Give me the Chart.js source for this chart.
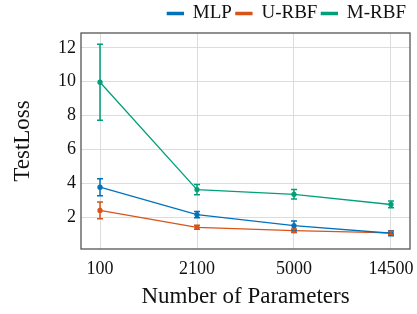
<!DOCTYPE html>
<html>
<head>
<meta charset="utf-8">
<script src="https://cdn.jsdelivr.net/npm/chart.js@4.4.1/dist/chart.umd.min.js"></script>
<style>
  html, body { margin: 0; padding: 0; background: #fff; }
  #wrap { width: 417px; height: 314px; }
</style>
</head>
<body>
<div id="wrap"><canvas id="myChart" width="417" height="314"></canvas></div>
<script>
// datos
const categorias = ['100', '2100', '5000', '14500'];
const yTicks = [2, 4, 6, 8, 10, 12];

const mlp = [3.77, 2.15, 1.5, 1.05];
const mlpErr = [0.5, 0.18, 0.28, 0.15];

const urbf = [2.4, 1.4, 1.2, 1.07];
const urbfErr = [0.5, 0.12, 0.1, 0.1];

const mrbf = [9.97, 3.63, 3.35, 2.75];
const mrbfErr = [2.25, 0.3, 0.28, 0.2];

const colores = ['#0072BD', '#D95319', '#00A07A'];
const fuente = "'Liberation Serif', 'Times New Roman', serif";

function puntos(vals) {
    return vals.map((v, i) => ({ x: i, y: v }));
}

const series = [
    { label: 'MLP', data: mlp, err: mlpErr },
    { label: 'U-RBF', data: urbf, err: urbfErr },
    { label: 'M-RBF', data: mrbf, err: mrbfErr }
];

// barras de error y marco del área
const errorBars = {
    id: 'errorBars',
    afterDatasetsDraw(chart) {
        const { ctx, scales: { x, y } } = chart;
        ctx.save();
        chart.data.datasets.forEach((ds, k) => {
            const err = series[k].err;
            ctx.strokeStyle = ds.borderColor;
            ctx.lineWidth = 1.5;
            ds.data.forEach((p, i) => {
                const px = x.getPixelForValue(p.x);
                const top = y.getPixelForValue(p.y + err[i]);
                const bot = y.getPixelForValue(p.y - err[i]);
                ctx.beginPath();
                ctx.moveTo(px, top); ctx.lineTo(px, bot);
                ctx.moveTo(px - 3, top); ctx.lineTo(px + 3, top);
                ctx.moveTo(px - 3, bot); ctx.lineTo(px + 3, bot);
                ctx.stroke();
            });
        });
        const a = chart.chartArea;
        ctx.strokeStyle = '#555';
        ctx.lineWidth = 1.3;
        ctx.strokeRect(a.left, a.top, a.right - a.left, a.bottom - a.top);
        ctx.restore();
    }
};

const ctx = document.getElementById('myChart').getContext('2d');
new Chart(ctx, {
    type: 'line',
    data: {
        datasets: series.map((s, k) => ({
            label: s.label,
            data: puntos(s.data),
            borderColor: colores[k],
            backgroundColor: colores[k],
            borderWidth: 1.3,
            pointRadius: 2,
            pointHoverRadius: 2,
            tension: 0
        }))
    },
    options: {
        responsive: false,
        animation: false,
        layout: { padding: { left: 0, right: 7, top: 0, bottom: 0 } },
        plugins: {
            legend: {
                position: 'top',
                align: 'end',
                labels: {
                    font: { family: fuente, size: 19 },
                    color: '#111',
                    boxWidth: 16,
                    boxHeight: 2,
                    padding: 4
                }
            },
            tooltip: { enabled: false }
        },
        scales: {
            x: {
                type: 'linear',
                min: -0.196,
                max: 3.196,
                afterBuildTicks: (scale) => { scale.ticks = categorias.map((c, i) => ({ value: i })); },
                afterFit: (scale) => {
                    scale.height = 65;
                    scale.paddingLeft = 0;
                    scale.paddingRight = 0;
                },
                ticks: {
                    callback: (v) => categorias[v],
                    font: { family: fuente, size: 18 },
                    color: '#111',
                    padding: 9
                },
                grid: { color: '#dcdcdc', lineWidth: 1, drawTicks: false },
                border: { display: false },
                title: {
                    display: true,
                    text: 'Number of Parameters',
                    font: { family: fuente, size: 23 },
                    color: '#111',
                    padding: { top: 2, bottom: 3 }
                }
            },
            y: {
                min: 0.12,
                max: 12.88,
                afterBuildTicks: (scale) => { scale.ticks = yTicks.map(v => ({ value: v })); },
                afterFit: (scale) => {
                    scale.width = 81;
                    scale.paddingTop = 0;
                    scale.paddingBottom = 0;
                },
                ticks: {
                    font: { family: fuente, size: 18 },
                    color: '#111',
                    padding: 5
                },
                grid: { color: '#dcdcdc', lineWidth: 1, drawTicks: false },
                border: { display: false },
                title: {
                    display: true,
                    text: 'TestLoss',
                    font: { family: fuente, size: 23 },
                    color: '#111',
                    padding: { top: 9, bottom: 9 }
                }
            }
        }
    },
    plugins: [errorBars]
});
</script>
</body>
</html>
